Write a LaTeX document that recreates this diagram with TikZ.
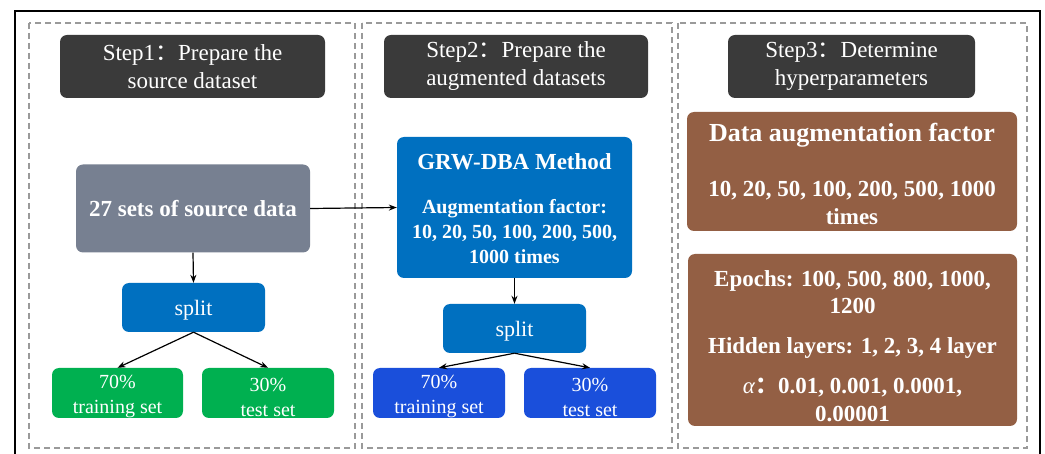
\documentclass[tikz,border=0pt]{standalone}
\usepackage{fontspec}
\setmainfont{Liberation Serif}
\newfontfamily\cjk{Noto Sans CJK SC}
\usetikzlibrary{arrows.meta}
\definecolor{headgray}{HTML}{3A3A3A}
\definecolor{srcgray}{HTML}{778091}
\definecolor{midblue}{HTML}{0070C0}
\definecolor{setgreen}{HTML}{00B050}
\definecolor{setblue}{HTML}{1A4FDB}
\definecolor{brownbox}{HTML}{935F44}
\definecolor{dashgray}{HTML}{9A9A9A}
\newcommand{\fc}{{\cjk ：}}
\begin{document}
\begin{tikzpicture}[x=1pt,y=-1pt,
  card/.style={rounded corners=7pt, inner sep=0pt, text=white, align=center},
  lbl/.style={inner sep=0pt, text=white, align=center},
  headbox/.style={card, fill=headgray, minimum height=63pt,
                  font=\fontsize{23}{28}\selectfont},
  splitbox/.style={card, fill=midblue, minimum width=143pt, minimum height=49pt},
  splittext/.style={lbl, yshift=-3pt, font=\fontsize{22}{26}\selectfont},
  setbox/.style={card, minimum width=132pt, minimum height=50pt},
  settext/.style={lbl, yshift=-4pt, font=\fontsize{20}{25}\selectfont},
  panel/.style={draw=dashgray, line width=1.4pt, dash pattern=on 6pt off 4pt},
  flow/.style={draw=black, line width=1.2pt, -{Stealth[length=8pt,width=6pt]}}
]
\useasboundingbox (0,0) rectangle (1045,454);

% outer frame (open at the bottom)
\draw[line width=1.4pt] (15,470) -- (15,11) -- (1040,11) -- (1040,470);

% three step panels
\draw[panel] (29,23) rectangle (355,448);
\draw[panel] (362,23) rectangle (672,448);
\draw[panel] (678,23) rectangle (1027,448);

% step headers
\node[headbox, minimum width=265pt] (h1) at (192.5,66.5) {Step1\fc Prepare the\\source dataset};
\node[headbox, minimum width=264pt] (h2) at (516,66.5) {Step2\fc Prepare the\\augmented datasets};
\node[headbox, minimum width=247pt] (h3) at (851.5,66.5) {Step3\fc Determine\\hyperparameters};

% step 1
\node[card, fill=srcgray, minimum width=234pt, minimum height=88pt,
      font=\fontsize{23}{28}\selectfont\bfseries] (src) at (193,208.5) {27 sets of source data};
\node[splitbox, label={[splittext, name=split1t]center:split}] (split1) at (193.5,307.5) {};
\node[setbox, fill=setgreen, minimum width=131pt,
      label={[settext, name=train1t]center:70\%\\training set}] (train1) at (117.5,393) {};
\node[setbox, fill=setgreen,
      label={[settext, name=test1t]center:30\%\\test set}] (test1) at (268,393) {};

% step 2
\node[card, fill=midblue, minimum width=235pt, minimum height=141pt,
      label={[lbl, name=grwt, yshift=-1.5pt, font=\fontsize{20}{25}\selectfont\bfseries]center:
        {\fontsize{23}{25}\selectfont GRW-DBA Method}\\[19pt]
        Augmentation factor:\\10, 20, 50, 100, 200, 500,\\1000 times}] (grw) at (514.5,207.5) {};
\node[splitbox, label={[splittext, name=split2t]center:split}] (split2) at (514.5,328.5) {};
\node[setbox, fill=setblue,
      label={[settext, name=train2t]center:70\%\\training set}] (train2) at (439,393) {};
\node[setbox, fill=setblue,
      label={[settext, name=test2t]center:30\%\\test set}] (test2) at (590,393) {};

% step 3
\node[card, fill=brownbox, minimum width=330pt, minimum height=119pt,
      label={[lbl, name=factort, yshift=-2pt, font=\fontsize{23}{28}\selectfont\bfseries]center:
        {\fontsize{26}{28}\selectfont Data augmentation factor}\\[27pt]
        10, 20, 50, 100, 200, 500, 1000\\times}] (factor) at (852,171.5) {};
\node[card, fill=brownbox, minimum width=329pt, minimum height=172pt,
      label={[lbl, name=hypert, yshift=-6pt, font=\fontsize{23}{27.5}\selectfont\bfseries]center:
        Epochs: 100, 500, 800, 1000,\\1200\\[12.5pt]
        Hidden layers: 1, 2, 3, 4 layer\\[12.5pt]
        {\normalfont\itshape α}\fc 0.01, 0.001, 0.0001,\\0.00001}] (hyper) at (852.5,340) {};

% connectors
\draw[flow] (src.east) -- (grw.west);
\draw[flow] (src.south) -- (split1.north);
\draw[flow] (split1.south) -- (train1.north);
\draw[flow] (split1.south) -- (test1.north);
\draw[flow] (grw.south) -- (split2.north);
\draw[flow] (split2.south) -- (train2.north);
\draw[flow] (split2.south) -- (test2.north);
\end{tikzpicture}
\end{document}
